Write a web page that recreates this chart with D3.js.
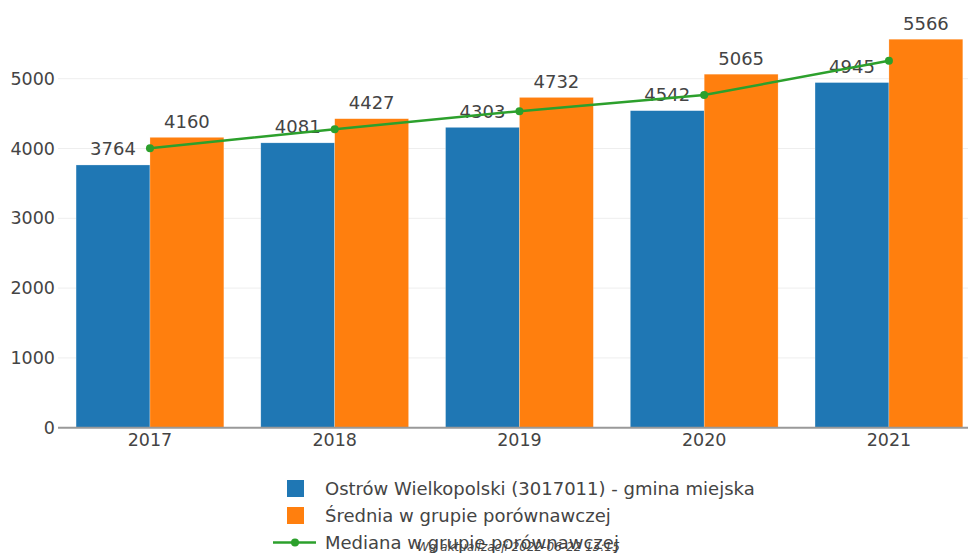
<!DOCTYPE html>
<html><head><meta charset="utf-8">
<script src="https://cdn.jsdelivr.net/npm/d3@7"></script>
<style>body{margin:0;background:#fff}svg{display:block}</style>
</head><body><svg id="c" width="968" height="553"></svg>
<script>
const years = ["2017","2018","2019","2020","2021"];
const gmina = [3764,4081,4303,4542,4945];
const srednia = [4160,4427,4732,5065,5566];
const mediana = [4005,4275,4535,4765,5258];
const yTicks = [0,1000,2000,3000,4000,5000];
const seriesNames = ["Ostrów Wielkopolski (3017011) - gmina miejska","Średnia w grupie porównawczej","Mediana w grupie porównawczej"];
const colors = ["#1f77b4","#ff7f0e","#2ca02c"];
const footnote = "Wg aktualizacji 2022-06-22 13:15";

const svg = d3.select("#c");
const font = "'DejaVu Sans', Verdana, sans-serif";
const y = d3.scaleLinear().domain([0,5000]).range([427.7,78.7]);
const x0 = d3.scaleBand().domain(years).range([57.6,981.3]).paddingInner(0.2).paddingOuter(0.1);
const x1 = d3.scaleBand().domain([0,1]).range([0,x0.bandwidth()]);

// grid
svg.append("g").selectAll("line").data(yTicks.filter(d=>d>0)).join("line")
  .attr("x1",58).attr("x2",968).attr("y1",d=>y(d)).attr("y2",d=>y(d))
  .attr("stroke","#eee").attr("stroke-width",1);

// y labels
svg.append("g").selectAll("text").data(yTicks).join("text")
  .attr("x",55).attr("y",d=>y(d)).attr("dy","0.35em").attr("text-anchor","end")
  .attr("font-family",font).attr("font-size",17.5).attr("fill","#444").text(d=>d);

// bars
const data = years.map((yr,i)=>({yr, vals:[gmina[i],srednia[i]]}));
const g = svg.append("g").selectAll("g").data(data).join("g")
  .attr("transform",d=>`translate(${x0(d.yr)},0)`);
g.selectAll("rect").data(d=>d.vals.map((v,k)=>({v,k}))).join("rect")
  .attr("x",d=>x1(d.k)).attr("width",x1.bandwidth())
  .attr("y",d=>y(d.v)).attr("height",d=>y(0)-y(d.v))
  .attr("fill",d=>colors[d.k]).attr("stroke","rgba(255,255,255,0.5)").attr("stroke-width",0.5);
g.selectAll("text").data(d=>d.vals.map((v,k)=>({v,k}))).join("text")
  .attr("x",d=>x1(d.k)+x1.bandwidth()/2).attr("y",d=>y(d.v)-9.5)
  .attr("text-anchor","middle").attr("font-family",font).attr("font-size",18)
  .attr("fill","#444").text(d=>d.v);

// x axis line
svg.append("line").attr("x1",58).attr("x2",968).attr("y1",y(0)).attr("y2",y(0))
  .attr("stroke","#999").attr("stroke-width",2);
svg.append("g").selectAll("text").data(years).join("text")
  .attr("x",d=>x0(d)+x0.bandwidth()/2).attr("y",446)
  .attr("text-anchor","middle").attr("font-family",font).attr("font-size",17.5)
  .attr("fill","#444").text(d=>d);

// median line
const cx = (d,i)=>x0(years[i])+x0.bandwidth()/2;
svg.append("path").datum(mediana)
  .attr("d",d3.line().x((d,i)=>cx(d,i)).y(d=>y(d)))
  .attr("fill","none").attr("stroke",colors[2]).attr("stroke-width",2.5);
svg.append("g").selectAll("circle").data(mediana).join("circle")
  .attr("cx",(d,i)=>cx(d,i)).attr("cy",d=>y(d)).attr("r",4).attr("fill",colors[2]);

// footnote (partly hidden under legend, as in the reference)
svg.append("text").attr("x",417).attr("y",551).attr("font-family",font)
  .attr("font-size",12).attr("font-style","italic").attr("fill","#444").text(footnote);

// legend
const lg = svg.append("g");
[0,1,2].forEach(i=>{
  const cy = 488.5 + i*27;
  if(i<2){
    lg.append("rect").attr("x",287).attr("y",cy-8.5).attr("width",17).attr("height",17).attr("fill",colors[i]);
  } else {
    lg.append("line").attr("x1",273).attr("x2",316).attr("y1",cy).attr("y2",cy).attr("stroke",colors[2]).attr("stroke-width",2.5);
    lg.append("circle").attr("cx",295).attr("cy",cy).attr("r",4).attr("fill",colors[2]);
  }
  lg.append("text").attr("x",325).attr("y",cy).attr("dy","0.35em")
    .attr("font-family",font).attr("font-size",18).attr("fill","#444").text(seriesNames[i]);
});
</script></body></html>
